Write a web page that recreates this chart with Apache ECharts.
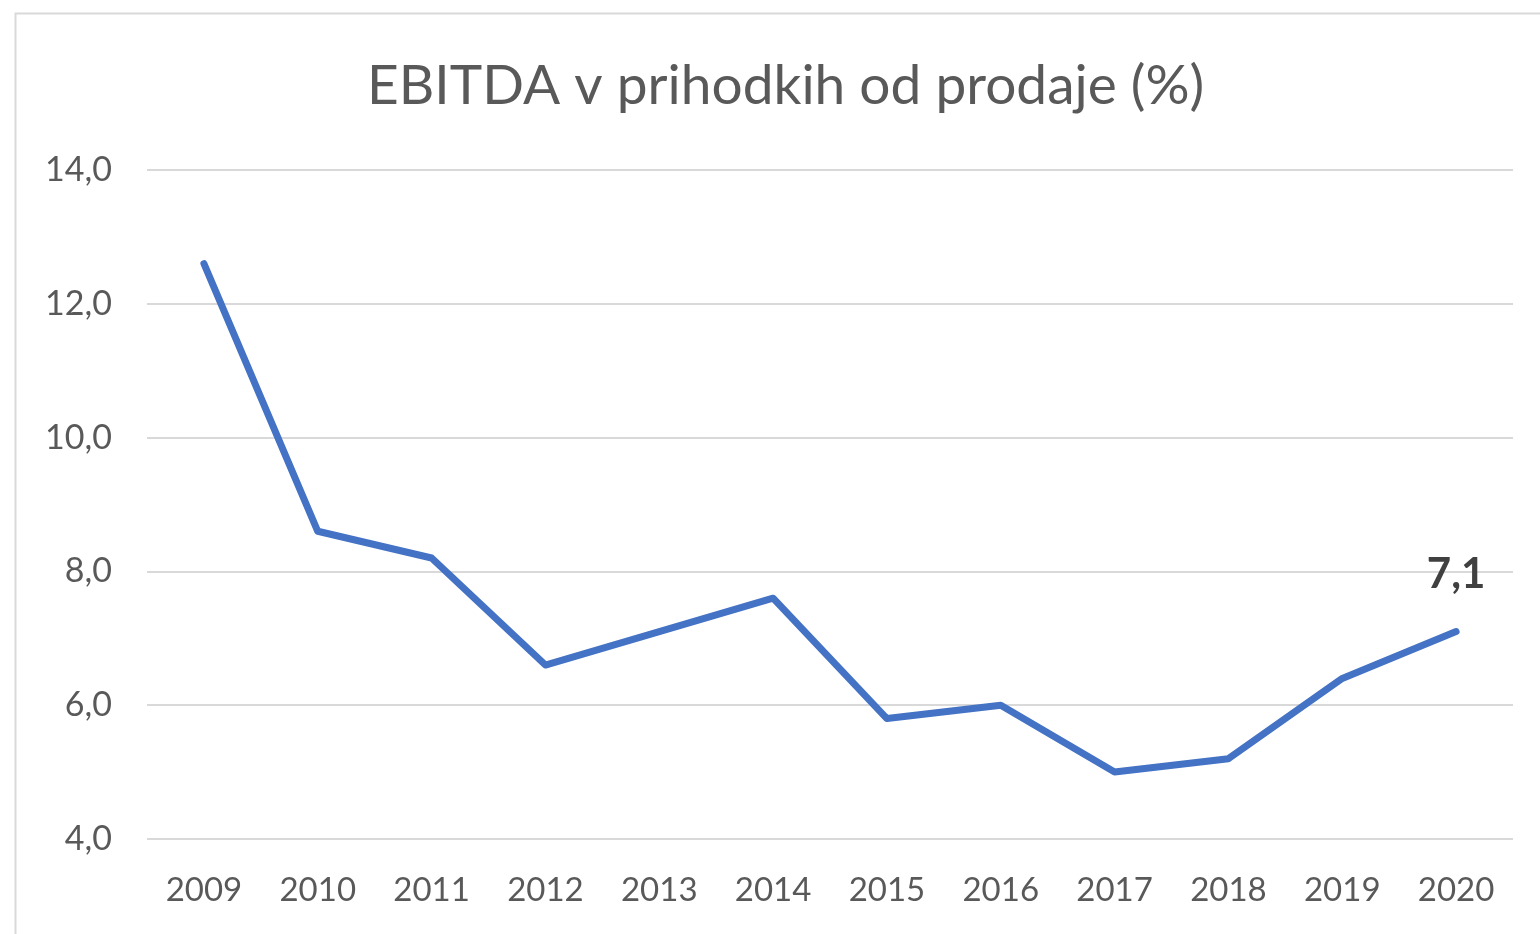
<!DOCTYPE html>
<html>
<head>
<meta charset="utf-8">
<script src="https://cdn.jsdelivr.net/npm/echarts@6/dist/echarts.min.js"></script>
<style>html,body{margin:0;padding:0;background:#fff}#c{width:1540px;height:934px}</style>
</head>
<body>
<div id="c"></div>
<script>
const titleText = 'EBITDA v prihodkih od prodaje (%)';
const years = ['2009','2010','2011','2012','2013','2014','2015','2016','2017','2018','2019','2020'];
const ebitdaShare = [12.6, 8.6, 8.2, 6.6, 7.1, 7.6, 5.8, 6.0, 5.0, 5.2, 6.4, 7.1];
const yTicks = [4, 6, 8, 10, 12, 14];

const chart = echarts.init(document.getElementById('c'));
const fmt = v => v.toFixed(1).replace('.', ',');
chart.setOption({
  animation: false,
  backgroundColor: '#fff',
  graphic: [{
    type: 'rect', left: 13, top: 11, shape: { width: 1600, height: 1000 },
    style: { fill: 'none', stroke: '#d9d9d9', lineWidth: 2 }, z: -1
  }],
  title: {
    text: titleText, left: 362, top: 54,
    textStyle: { fontFamily: 'Lato', fontSize: 55, fontWeight: 'normal', color: '#595959' }
  },
  grid: { left: 147, right: 27, top: 170, bottom: 95 },
  xAxis: {
    type: 'category', data: years, boundaryGap: true,
    axisLine: { show: false }, axisTick: { show: false },
    axisLabel: { fontFamily: 'Lato', fontSize: 33, color: '#595959', margin: 35 }
  },
  yAxis: {
    type: 'value', min: yTicks[0], max: yTicks[yTicks.length - 1], interval: 2,
    axisLine: { show: false }, axisTick: { show: false },
    splitLine: { lineStyle: { color: '#d9d9d9', width: 2 } },
    axisLabel: { fontFamily: 'Lato', fontSize: 34, color: '#595959', margin: 35, formatter: fmt }
  },
  series: [{
    type: 'line', data: ebitdaShare, symbol: 'circle', symbolSize: 0.01, showSymbol: true,
    lineStyle: { color: '#4472C4', width: 7, cap: 'round', join: 'round' },
    itemStyle: { color: '#4472C4' },
    label: {
      show: true, position: 'top', distance: 36,
      fontFamily: 'Lato', fontSize: 42, fontWeight: 'bold', color: '#404040',
      formatter: p => p.dataIndex === ebitdaShare.length - 1 ? fmt(p.value) : ''
    }
  }]
});
</script>
</body>
</html>
